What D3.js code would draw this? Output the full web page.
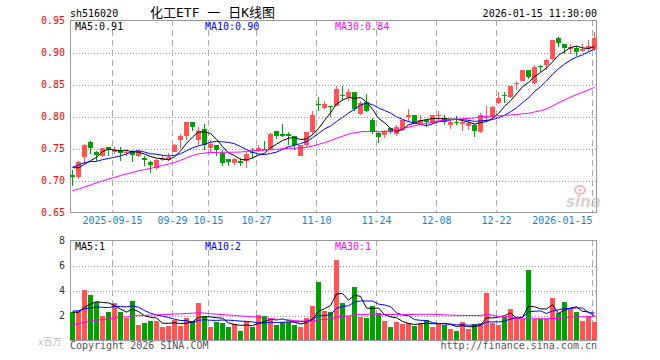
<!DOCTYPE html>
<html><head><meta charset="utf-8">
<script src="https://cdn.jsdelivr.net/npm/d3@7/dist/d3.min.js"></script>
<style>
body{margin:0;background:#fff;}
svg{display:block;}
text{font-family:"DejaVu Sans Mono",monospace;}
</style></head><body>
<svg id="c" width="660" height="360"></svg>
<script>
// ---------- data ----------
const dates = [
"2025-09-04","2025-09-05","2025-09-08","2025-09-09","2025-09-10","2025-09-11","2025-09-12","2025-09-15","2025-09-16","2025-09-17",
"2025-09-18","2025-09-19","2025-09-22","2025-09-23","2025-09-24","2025-09-25","2025-09-26","2025-09-29","2025-09-30","2025-10-09",
"2025-10-10","2025-10-13","2025-10-14","2025-10-15","2025-10-16","2025-10-17","2025-10-20","2025-10-21","2025-10-22","2025-10-23",
"2025-10-24","2025-10-27","2025-10-28","2025-10-29","2025-10-30","2025-10-31","2025-11-03","2025-11-04","2025-11-05","2025-11-06",
"2025-11-07","2025-11-10","2025-11-11","2025-11-12","2025-11-13","2025-11-14","2025-11-17","2025-11-18","2025-11-19","2025-11-20",
"2025-11-21","2025-11-24","2025-11-25","2025-11-26","2025-11-27","2025-11-28","2025-12-01","2025-12-02","2025-12-03","2025-12-04",
"2025-12-05","2025-12-08","2025-12-09","2025-12-10","2025-12-11","2025-12-12","2025-12-15","2025-12-16","2025-12-17","2025-12-18",
"2025-12-19","2025-12-22","2025-12-23","2025-12-24","2025-12-25","2025-12-26","2025-12-29","2025-12-30","2025-12-31","2026-01-05",
"2026-01-06","2026-01-07","2026-01-08","2026-01-09","2026-01-12","2026-01-13","2026-01-14","2026-01-15"];
const open  = [0.709,0.705,0.737,0.760,0.745,0.738,0.753,0.745,0.748,0.743,0.745,0.739,0.735,0.729,0.720,0.732,0.732,0.744,0.763,0.770,
0.792,0.764,0.780,0.751,0.756,0.743,0.734,0.727,0.730,0.731,0.744,0.746,0.750,0.750,0.778,0.772,0.773,0.770,0.739,0.755,
0.775,0.819,0.814,0.816,0.817,0.834,0.830,0.838,0.804,0.822,0.795,0.774,0.771,0.782,0.773,0.779,0.799,0.802,0.789,0.794,
0.790,0.800,0.797,0.787,0.792,0.789,0.785,0.786,0.776,0.797,0.799,0.821,0.833,0.830,0.851,0.856,0.872,0.853,0.879,0.881,
0.890,0.922,0.913,0.905,0.907,0.903,0.905,0.905];
const high  = [0.716,0.730,0.757,0.761,0.746,0.751,0.753,0.753,0.753,0.748,0.748,0.748,0.739,0.731,0.734,0.740,0.743,0.757,0.772,0.792,
0.792,0.783,0.788,0.763,0.756,0.747,0.734,0.735,0.735,0.744,0.751,0.756,0.762,0.774,0.778,0.789,0.776,0.770,0.756,0.776,
0.809,0.831,0.825,0.817,0.848,0.847,0.843,0.838,0.825,0.835,0.797,0.776,0.779,0.782,0.786,0.795,0.812,0.802,0.803,0.796,
0.803,0.808,0.803,0.795,0.801,0.796,0.795,0.789,0.806,0.817,0.816,0.838,0.839,0.848,0.855,0.873,0.873,0.880,0.880,0.890,
0.920,0.924,0.914,0.914,0.910,0.914,0.919,0.932];
const low   = [0.692,0.702,0.726,0.742,0.731,0.737,0.739,0.742,0.730,0.739,0.729,0.737,0.723,0.712,0.717,0.730,0.731,0.744,0.750,0.763,
0.778,0.755,0.747,0.744,0.738,0.723,0.722,0.725,0.722,0.719,0.735,0.744,0.747,0.748,0.765,0.768,0.755,0.747,0.738,0.753,
0.773,0.809,0.812,0.799,0.816,0.826,0.825,0.809,0.803,0.807,0.773,0.758,0.766,0.772,0.769,0.778,0.791,0.790,0.786,0.784,
0.789,0.791,0.787,0.781,0.786,0.778,0.779,0.768,0.774,0.791,0.796,0.820,0.821,0.829,0.841,0.855,0.858,0.851,0.869,0.872,
0.888,0.908,0.898,0.898,0.894,0.901,0.901,0.903];
const close = [0.705,0.729,0.755,0.751,0.740,0.751,0.748,0.748,0.743,0.745,0.740,0.746,0.732,0.725,0.732,0.735,0.737,0.756,0.770,0.792,
0.784,0.778,0.756,0.757,0.747,0.727,0.729,0.734,0.728,0.742,0.743,0.751,0.748,0.772,0.770,0.770,0.770,0.755,0.755,0.775,
0.802,0.818,0.819,0.815,0.843,0.833,0.839,0.812,0.821,0.809,0.776,0.768,0.778,0.776,0.783,0.794,0.803,0.792,0.795,0.792,
0.802,0.802,0.792,0.792,0.791,0.791,0.790,0.777,0.803,0.799,0.815,0.829,0.832,0.847,0.853,0.872,0.862,0.878,0.878,0.889,
0.919,0.915,0.907,0.908,0.901,0.905,0.910,0.922];
// closes of the 29 sessions before the window (implied by the MA lines at the left edge)
const preClose = [0.655,0.660,0.652,0.648,0.655,0.662,0.668,0.660,0.665,0.672,0.668,0.675,0.670,0.663,0.668,0.675,0.680,
0.668,0.672,0.681,0.695,0.718,0.735,0.738,0.722,0.730,0.728,0.722,0.715];
const volume = [2.32,2.4,4.08,3.68,3.07,1.95,2.27,3.04,2.27,1.79,3.2,1.28,1.39,1.6,1.55,1.12,1.2,1.65,1.2,1.79,
1.6,2.99,1.95,1.12,1.47,1.39,1.12,1.33,0.75,1.6,1.12,2.08,2.0,1.73,1.28,1.52,1.47,1.28,1.07,1.81,
2.8,4.67,2.35,2.32,6.48,2.99,1.97,4.32,1.92,1.79,2.8,2.19,1.6,1.07,1.47,1.31,1.39,1.15,1.39,1.65,
1.12,1.44,1.25,0.96,0.8,1.52,0.96,1.33,1.44,3.84,1.44,1.28,1.92,2.56,1.79,1.73,5.68,1.73,1.73,1.73,
3.44,2.19,3.07,2.53,2.27,1.6,1.95,1.47];
const preVolume = [0.62,0.70,0.85,0.66,0.74,0.80,0.58,0.68,0.90,0.75,0.64,0.72,0.95,0.78,0.70,0.66,0.82,0.88,0.76,0.81,
2.1,2.6,2.9,2.3,2.25,2.5,2.1,2.33,2.1];
const priceTicks = [0.65,0.70,0.75,0.80,0.85,0.90,0.95];
const volTicks = [2,4,6,8];
const tickDates  = ["2025-09-15","2025-09-29","2025-10-15","2025-10-27","2025-11-10","2025-11-24","2025-12-08","2025-12-22","2026-01-15"];
const tickLabels = ["2025-09-15","09-29","10-15","10-27","11-10","11-24","12-08","12-22","2026-01-15"];
const maPeriods = [5,10,30];
const maColors = ["#000000","#0000ff","#ff00ff"];
const maLegend = ["0.91","0.90","0.84"];
const volLegend = ["1","2","1"];
const symbol = "sh516020";
const title = "化工ETF 一 日K线图";
const stamp = "2026-01-15 11:30:00";

// ---------- layout ----------
const L = 70, R = 597, T1 = 20, B1 = 212, T2 = 240, B2 = 340;
const UP = "#ff5555", DOWN = "#00a000";
const svg = d3.select("#c");

const x = d3.scaleBand().domain(dates).range([69, 597]).paddingInner(0).paddingOuter(0);
const y = d3.scaleLinear().domain([0.65, 0.95]).range([B1 + 0.5, T1 + 0.5]);
const yv = d3.scaleLinear().domain([0, 8]).range([B2 + 0.5, T2 + 0.5]);

function movingAvg(pre, arr, p) {
  const full = pre.concat(arr), off = pre.length;
  return arr.map((_, i) => d3.mean(full.slice(off + i - p + 1, off + i + 1)));
}

// header texts
svg.append("text").attr("x", 70).attr("y", 16.5).attr("font-size", 10).attr("fill", "#000").text(symbol);
svg.append("text").attr("x", 150).attr("y", 17).attr("font-size", 13).attr("fill", "#000")
  .style("font-family", '"DejaVu Sans Mono","Noto Sans CJK SC",monospace').text(title);
svg.append("text").attr("x", 597).attr("y", 16.5).attr("text-anchor", "end").attr("font-size", 10).attr("fill", "#000").text(stamp);

// ---------- grids ----------
const gridH = svg.append("g").attr("transform", `translate(${L},0)`)
  .call(d3.axisLeft(y).tickValues(priceTicks.slice(1, -1)).tickSize(-(R - L)).tickFormat(""));
gridH.select(".domain").remove();
gridH.selectAll("line").attr("stroke", "#999").attr("stroke-dasharray", "1,2").attr("shape-rendering", "crispEdges");

const gridHv = svg.append("g").attr("transform", `translate(${L},0)`)
  .call(d3.axisLeft(yv).tickValues(volTicks.slice(0, -1)).tickSize(-(R - L)).tickFormat(""));
gridHv.select(".domain").remove();
gridHv.selectAll("line").attr("stroke", "#999").attr("stroke-dasharray", "1,2").attr("shape-rendering", "crispEdges");

const xTick = d => x(d) + 1.5;
[[T1, B1], [T2, B2]].forEach(([t, b]) => {
  svg.append("g").selectAll("line").data(tickDates).join("line")
    .attr("x1", xTick).attr("x2", xTick).attr("y1", t).attr("y2", b)
    .attr("stroke", "#aaa").attr("stroke-dasharray", "6,4").attr("shape-rendering", "crispEdges");
});

// borders
[[T1, B1], [T2, B2]].forEach(([t, b]) => {
  svg.append("rect").attr("x", L + 0.5).attr("y", t + 0.5).attr("width", R - L - 1).attr("height", b - t)
    .attr("fill", "none").attr("stroke", "#999").attr("shape-rendering", "crispEdges");
});

// axis labels
const yAx = svg.append("g").attr("transform", `translate(65,0)`)
  .call(d3.axisLeft(y).tickValues(priceTicks).tickSize(0).tickPadding(0).tickFormat(d3.format(".2f")));
yAx.select(".domain").remove();
yAx.selectAll("text").attr("fill", "#ff0000").attr("font-size", 10).style("font-family", '"DejaVu Sans Mono",monospace');

const vAx = svg.append("g").attr("transform", `translate(65,0)`)
  .call(d3.axisLeft(yv).tickValues(volTicks).tickSize(0).tickPadding(0).tickFormat(d3.format("d")));
vAx.select(".domain").remove();
vAx.selectAll("text").attr("fill", "#333").attr("font-size", 10).style("font-family", '"DejaVu Sans Mono",monospace');

svg.append("g").selectAll("text").data(tickDates).join("text")
  .attr("x", xTick).attr("y", 224)
  .attr("text-anchor", (d, i) => i === tickDates.length - 1 ? "end" : "middle")
  .attr("font-size", 10).attr("fill", "#1a7fd0")
  .text((d, i) => tickLabels[i]);

// watermark logo
const wm = svg.append("g").attr("opacity", 0.55);
wm.append("ellipse").attr("cx", 580).attr("cy", 190).attr("rx", 5).attr("ry", 4).attr("fill", "none").attr("stroke", "#f08080").attr("stroke-width", 2);
wm.append("circle").attr("cx", 580).attr("cy", 190).attr("r", 1.5).attr("fill", "#f08080");
wm.append("text").attr("x", 566).attr("y", 207).attr("font-size", 15).attr("font-style", "italic").attr("font-weight", "bold")
  .attr("fill", "#c8a8a8").style("font-family", '"DejaVu Sans",sans-serif').text("sina");

// ---------- candles ----------
const idx = d3.range(dates.length);
const isUp = i => close[i] >= open[i];
const cx = i => x(dates[i]) + 3.5;
const cg = svg.append("g").attr("shape-rendering", "crispEdges");
cg.selectAll("line").data(idx).join("line")
  .attr("x1", cx).attr("x2", cx).attr("y1", i => y(high[i])).attr("y2", i => y(low[i]))
  .attr("stroke", i => isUp(i) ? UP : DOWN);
cg.selectAll("rect").data(idx).join("rect")
  .attr("x", i => x(dates[i]) + 1).attr("width", 5)
  .attr("y", i => Math.round(y(Math.max(open[i], close[i]))))
  .attr("height", i => Math.max(1, Math.round(y(Math.min(open[i], close[i]))) - Math.round(y(Math.max(open[i], close[i])))))
  .attr("fill", i => isUp(i) ? UP : DOWN);

// price MAs
maPeriods.forEach((p, k) => {
  const m = movingAvg(preClose, close, p);
  svg.append("path").datum(idx)
    .attr("d", d3.line().x(cx).y(i => y(m[i])))
    .attr("fill", "none").attr("stroke", maColors[k]).attr("stroke-width", 1);
});

// ---------- volume ----------
svg.append("g").attr("shape-rendering", "crispEdges").selectAll("rect").data(idx).join("rect")
  .attr("x", i => x(dates[i]) + 1).attr("width", 5)
  .attr("y", i => Math.round(yv(volume[i])))
  .attr("height", i => B2 - Math.round(yv(volume[i])))
  .attr("fill", i => isUp(i) ? UP : DOWN);

maPeriods.forEach((p, k) => {
  const m = movingAvg(preVolume, volume, p);
  svg.append("path").datum(idx)
    .attr("d", d3.line().x(cx).y(i => yv(m[i])))
    .attr("fill", "none").attr("stroke", maColors[k]).attr("stroke-width", 1);
});

// legends
const lx = [75, 205, 335];
maPeriods.forEach((p, k) => {
  svg.append("text").attr("x", lx[k]).attr("y", 30).attr("font-size", 10).attr("fill", maColors[k]).text(`MA${p}:${maLegend[k]}`);
  svg.append("text").attr("x", lx[k]).attr("y", 249.5).attr("font-size", 10).attr("fill", maColors[k]).text(`MA${p}:${volLegend[k]}`);
});

// footer
svg.append("text").attr("x", 70).attr("y", 349).attr("font-size", 10).attr("fill", "#555").text("Copyright 2026 SINA.COM");
svg.append("text").attr("x", 597).attr("y", 349).attr("text-anchor", "end").attr("font-size", 10).attr("fill", "#555").text("http://finance.sina.com.cn");
svg.append("text").attr("x", 38).attr("y", 345).attr("font-size", 9).attr("fill", "#bbb")
  .style("font-family", '"DejaVu Sans Mono","Noto Sans CJK SC",monospace').text("x百万");
</script>
</body></html>
